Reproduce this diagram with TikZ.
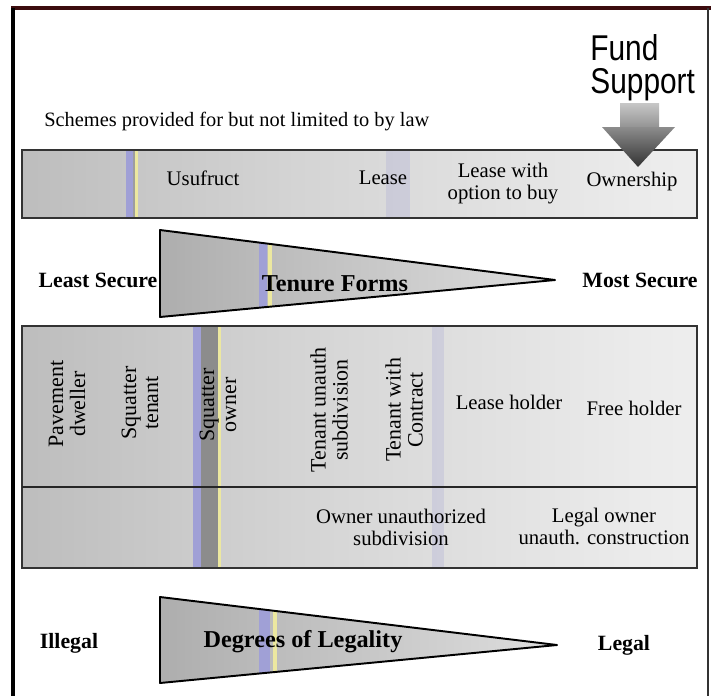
\documentclass[tikz,border=0pt]{standalone}
\usepackage{fontspec}
\setmainfont{Liberation Serif}
\newfontfamily\fundfont{Liberation Sans}

\definecolor{streakblue}{RGB}{160,160,214}
\definecolor{streakyellow}{RGB}{236,232,160}
\definecolor{framered}{RGB}{60,12,14}

\pgfdeclarehorizontalshading{fade}{100bp}{color(0bp)=(black!35); color(20bp)=(black!28); color(45bp)=(black!17); color(70bp)=(black!8); color(100bp)=(black!1)}
\pgfdeclarehorizontalshading{wedgefade}{100bp}{color(0bp)=(black!42); color(40bp)=(black!26); color(75bp)=(black!13); color(100bp)=(black!6)}

\tikzset{
	lbl/.style={font=\fontsize{11.8}{12.5}\selectfont, align=center, inner sep=0pt},
	vlbl/.style={lbl, font=\fontsize{12.5}{12.5}\selectfont, rotate=90},
	bigl/.style={font=\bfseries\fontsize{12.4}{13}\selectfont, inner sep=0pt},
	wedgel/.style={font=\bfseries\fontsize{13.8}{14}\selectfont, inner sep=0pt},
	edge/.style={draw=black!80, line width=0.8pt},
}

\begin{document}
\begin{tikzpicture}[x=0.02cm, y=-0.02cm]
				\useasboundingbox (0,0) rectangle (715,696);
				
				\fill[framered] (11,6) rectangle (711,10);
				\fill[black] (11,8) rectangle (15,696);
				\draw[black!80, line width=0.6pt] (708,8) -- (708,696);
				
				\node[lbl, anchor=west, font=\fontsize{11.6}{12.5}\selectfont] (schemes) at (44,122) {Schemes provided for but not limited to by law};
				
				\shade[shading=fade] (22,150) rectangle (697,218);
				\fill[streakblue] (126,150) rectangle (133,218);
				\fill[black!38] (133,150) rectangle (135,218);
				\fill[streakyellow] (135,150) rectangle (138,218);
				\fill[streakblue, opacity=0.25] (386,150) rectangle (410,218);
				\draw[edge] (22,150) rectangle (697,218);
				
				\node[lbl] (usufruct) at (203,178) {Usufruct};
				\node[lbl] (lease) at (383,178) {Lease};
				\node[lbl] (option) at (503,184) {Lease with\\option to buy};
				\node[lbl] (ownership) at (632,182) {Ownership};
				
				\node[font=\fundfont\fontsize{17}{15.6}\selectfont, align=left, inner sep=0pt, yscale=1.2, anchor=north west] (fund) at (590,34) {Fund\\Support};
				\shade[top color=black!22, bottom color=black!42] (620,103) rectangle (659,127);
				\shade[top color=black!45, bottom color=black!80] (602,127) -- (675,127) -- (638,167) -- cycle;
				
				\shade[shading=wedgefade] (160,230) -- (555,280) -- (160,317) -- cycle;
				\begin{scope}
					\clip (160,230) -- (555,280) -- (160,317) -- cycle;
					\fill[streakblue] (259,200) rectangle (267,340);
					\fill[streakyellow] (268,200) rectangle (272,340);
				\end{scope}
				\draw[line width=1.1pt, line join=round] (160,230) -- (555,280) -- (160,317) -- cycle;
				
				\node[bigl] (least) at (98,280) {Least Secure};
				\node[wedgel] (tenure) at (335,284) {Tenure Forms};
				\node[bigl] (most) at (640,280) {Most Secure};
				
				\shade[shading=fade] (22,326) rectangle (697,568);
				\fill[streakblue] (193,326) rectangle (201,568);
				\fill[black!45] (201,326) rectangle (218,568);
				\fill[streakyellow] (218,326) rectangle (221,568);
				\fill[streakblue, opacity=0.25] (432,326) rectangle (444,568);
				\draw[edge] (22,326) rectangle (697,568);
				\draw[line width=1.2pt, black!85] (22,487) -- (697,487);
				
				\node[vlbl] (pavement) at (67,404) {Pavement\\dweller};
				\node[vlbl] (sqtenant) at (140,403) {Squatter\\tenant};
				\node[vlbl] (sqowner) at (218,405) {Squatter\\owner};
				\node[vlbl] (tenunauth) at (329,410) {Tenant unauth\\subdivision};
				\node[vlbl] (tencontract) at (404,410) {Tenant with\\Contract};
				\node[lbl] (leaseholder) at (509,402) {Lease holder};
				\node[lbl] (freeholder) at (634,408) {Free holder};
				
				\node[lbl] (ownerunauth) at (401,527) {Owner unauthorized\\subdivision};
				\node[lbl] (legalowner) at (604,526) {Legal owner\\unauth. construction};
				
				\shade[shading=wedgefade] (160,597) -- (557,645) -- (160,683) -- cycle;
				\begin{scope}
					\clip (160,597) -- (557,645) -- (160,683) -- cycle;
					\fill[streakblue] (259,580) rectangle (270,700);
					\fill[streakyellow] (273,580) rectangle (277,700);
				\end{scope}
				\draw[line width=1.1pt, line join=round] (160,597) -- (557,645) -- (160,683) -- cycle;
				
				\node[bigl] (illegal) at (69,643) {Illegal};
				\node[wedgel] (degrees) at (303,642) {Degrees of Legality};
				\node[bigl] (legal) at (624,645) {Legal};
\end{tikzpicture}
\end{document}
